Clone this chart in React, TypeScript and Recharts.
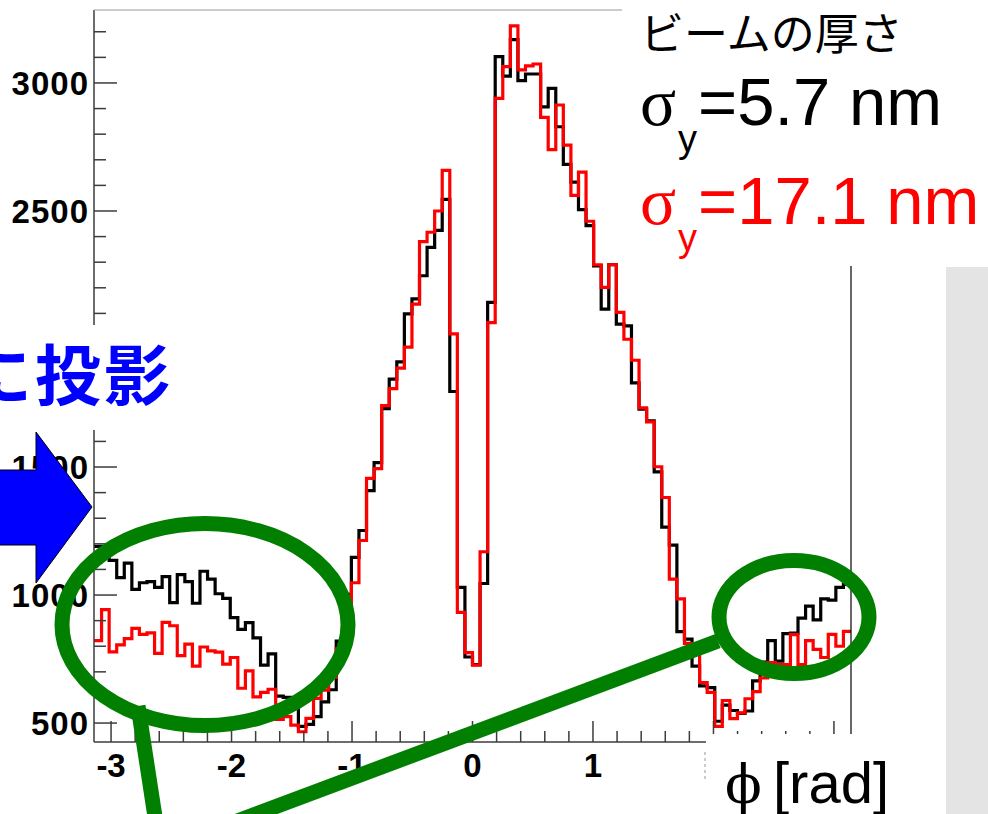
import { ComposedChart, Line, XAxis, YAxis } from "recharts"

// histogram contents, 100 bins over [-pi, pi]
const blackCounts = [
  1190, 1150, 1135, 1068, 1125, 1022, 1048, 1052, 1030, 1072,
  970, 1080, 1052, 968, 1093, 1062, 1005, 987, 912, 866,
  892, 833, 726, 770, 605, 600, 598, 487, 495, 525,
  583, 630, 820, 1003, 1147, 1252, 1408, 1517, 1728, 1843,
  1911, 2098, 2157, 2247, 2358, 2424, 2545, 1795, 1030, 758,
  728, 1045, 2143, 3103, 3027, 3169, 3009, 3035, 3035, 2907,
  2979, 2829, 2682, 2613, 2505, 2443, 2286, 2117, 2290, 2058,
  2051, 1829, 1726, 1680, 1481, 1265, 1195, 857, 828, 722,
  645, 638, 507, 570, 549, 538, 547, 665, 738, 822,
  742, 849, 851, 910, 957, 903, 985, 980, 1030, 1042,
]

const redCounts = [
  822, 943, 778, 805, 830, 870, 846, 852, 772, 893,
  880, 763, 808, 722, 797, 782, 777, 730, 756, 636,
  704, 602, 620, 632, 514, 525, 492, 466, 518, 596,
  629, 678, 790, 905, 1048, 1213, 1456, 1494, 1740, 1806,
  1886, 1968, 2136, 2380, 2417, 2500, 2659, 2020, 932, 775,
  726, 1169, 2064, 2940, 3064, 3223, 3051, 3067, 3074, 2866,
  2740, 2914, 2757, 2561, 2652, 2460, 2290, 2202, 2290, 2104,
  1999, 1917, 1731, 1676, 1501, 1381, 1062, 985, 811, 772,
  658, 620, 487, 588, 517, 540, 595, 623, 676, 736,
  728, 728, 845, 728, 822, 788, 756, 846, 800, 858,
]

// labelled ticks; 2000, 2 and 3 sit under the slide's text boxes
const yLabelledTicks = [500, 1000, 1500, 2500, 3000]
const yMajorTicks = [500, 1000, 1500, 2000, 2500, 3000]
const yTicks = [
  500, 600, 700, 800, 900, 1000, 1100, 1200, 1300, 1400, 1500, 1600, 1700, 1800,
  1900, 2000, 2100, 2200, 2300, 2400, 2500, 2600, 2700, 2800, 2900, 3000, 3100, 3200,
]
const xLabelledTicks = [-3, -2, -1, 0, 1]
const xMajorTicks = [-3, -2, -1, 0, 1, 2, 3]
const xTicks = [
  -3, -2.8, -2.6, -2.4, -2.2, -2, -1.8, -1.6, -1.4, -1.2, -1, -0.8, -0.6, -0.4, -0.2,
  0, 0.2, 0.4, 0.6, 0.8, 1, 1.2, 1.4, 1.6, 1.8, 2, 2.2, 2.4, 2.6, 2.8, 3,
]

const nBins = blackCounts.length
const binWidth = (2 * Math.PI) / nBins

// one row per low bin edge, plus the closing edge so the last step is drawn
const rows = blackCounts
  .map((b, i) => ({ phi: -Math.PI + i * binWidth, black: b, red: redCounts[i] }))
  .concat({ phi: Math.PI, black: blackCounts[nBins - 1], red: redCounts[nBins - 1] })

const AXIS_COLOR = "#3c3c3c"
const LABEL_FONT = "'Liberation Sans', Arial, sans-serif"
const GREEN = "#007f00"

const near = (list: number[], v: number) => list.some((t) => Math.abs(t - v) < 1e-6)

const YTick = ({ x, y, payload }: any) => {
  const major = near(yMajorTicks, payload.value)
  return (
    <g>
      <line x1={x} x2={x + (major ? 23 : 12)} y1={y} y2={y} stroke={AXIS_COLOR} strokeWidth={1.5} />
      {near(yLabelledTicks, payload.value) && (
        <text x={89} y={y + 12} textAnchor="end" fontFamily={LABEL_FONT} fontWeight="bold" fontSize={33} letterSpacing={1} fill="#000">
          {payload.value}
        </text>
      )}
    </g>
  )
}

const XTick = ({ x, y, payload }: any) => {
  const major = near(xMajorTicks, payload.value)
  return (
    <g>
      <line x1={x} x2={x} y1={y} y2={y - (major ? 21 : 11)} stroke={AXIS_COLOR} strokeWidth={1.5} />
      {near(xLabelledTicks, payload.value) && (
        <text x={x} y={y + 35} textAnchor="middle" fontFamily={LABEL_FONT} fontWeight="bold" fontSize={33} fill="#000">
          {payload.value}
        </text>
      )}
    </g>
  )
}

export default function App() {
  return (
    <div style={{ position: "absolute", left: 0, top: 0, width: 988, height: 814, background: "#fff", overflow: "hidden" }}>
      <div style={{ position: "absolute", left: 0, top: 0 }}>
        <ComposedChart width={988} height={814} data={rows} margin={{ top: 10, right: 137, bottom: 0, left: 0 }}>
          <XAxis
            type="number"
            dataKey="phi"
            domain={[-Math.PI, Math.PI]}
            allowDataOverflow
            ticks={xTicks}
            interval={0}
            height={72}
            tickSize={0}
            tickMargin={0}
            tickLine={false}
            axisLine={{ stroke: AXIS_COLOR, strokeWidth: 1.5 }}
            tick={<XTick />}
          />
          <YAxis
            type="number"
            domain={[426, 3285]}
            allowDataOverflow
            ticks={yTicks}
            interval={0}
            width={94}
            tickSize={0}
            tickMargin={0}
            tickLine={false}
            axisLine={{ stroke: AXIS_COLOR, strokeWidth: 1.5 }}
            tick={<YTick />}
          />
          <Line type="stepAfter" dataKey="black" stroke="#000" strokeWidth={3.2} dot={false} isAnimationActive={false} />
          <Line type="stepAfter" dataKey="red" stroke="#ff0000" strokeWidth={3.2} dot={false} isAnimationActive={false} />
        </ComposedChart>
      </div>

      {/* slide annotations on top of the plot */}
      <svg width={988} height={814} style={{ position: "absolute", left: 0, top: 0, pointerEvents: "none" }}>
        <line x1={94} x2={851} y1={10} y2={10} stroke="#999" strokeWidth={1.2} />
        <line x1={851} x2={851} y1={10} y2={742} stroke="#000" strokeWidth={1.2} />

        {/* text boxes covering parts of the frame */}
        <rect x={622} y={0} width={366} height={266} fill="#fff" />
        <rect x={706} y={734} width={240} height={80} fill="#fff" />
        <rect x={0} y={325} width={175} height={105} fill="#fff" />
        <rect x={946} y={267} width={42} height={547} fill="#e4e4e4" />
        <line x1={705} x2={705} y1={752} y2={782} stroke="#999" strokeWidth={1} strokeDasharray="3 3" />

        <text x={640} y={50} fontFamily="'Noto Sans CJK JP', sans-serif" fontSize={44} fill="#000">
          ビームの厚さ
        </text>
        <text x={640} y={125} fontFamily="'Liberation Serif', serif" fontSize={67} fill="#000">σ</text>
        <text x={678} y={152} fontFamily={LABEL_FONT} fontSize={38} fill="#000">y</text>
        <text x={698} y={125} fontFamily={LABEL_FONT} fontSize={67} fill="#000">=5.7 nm</text>
        <text x={640} y={224} fontFamily="'Liberation Serif', serif" fontSize={67} fill="#ff0000">σ</text>
        <text x={678} y={251} fontFamily={LABEL_FONT} fontSize={38} fill="#ff0000">y</text>
        <text x={698} y={224} fontFamily={LABEL_FONT} fontSize={67} fill="#ff0000">=17.1 nm</text>

        <text x={725} y={803} fontFamily="'DejaVu Serif', 'Liberation Serif', serif" fontSize={54} fill="#000">ϕ</text>
        <text x={773} y={803} fontFamily={LABEL_FONT} fontSize={58} fill="#000">[rad]</text>

        <text x={-34} y={400} fontFamily="'Noto Sans CJK JP', sans-serif" fontWeight="bold" fontSize={66} letterSpacing={3} fill="#0000ff">
          に投影
        </text>
        <polygon points="-2,470 36,470 36,432 92,507 36,583 36,545 -2,545" fill="#0000ff" stroke="#000" strokeWidth={1} />

        <ellipse cx={205} cy={624.5} rx={143} ry={101} fill="none" stroke={GREEN} strokeWidth={15} />
        <ellipse cx={794} cy={617} rx={75} ry={56.5} fill="none" stroke={GREEN} strokeWidth={15} />
        <line x1={138} y1={706} x2={155.5} y2={820} stroke={GREEN} strokeWidth={15} />
        <line x1={232} y1={823} x2={718} y2={641} stroke={GREEN} strokeWidth={15} />
      </svg>
    </div>
  )
}
